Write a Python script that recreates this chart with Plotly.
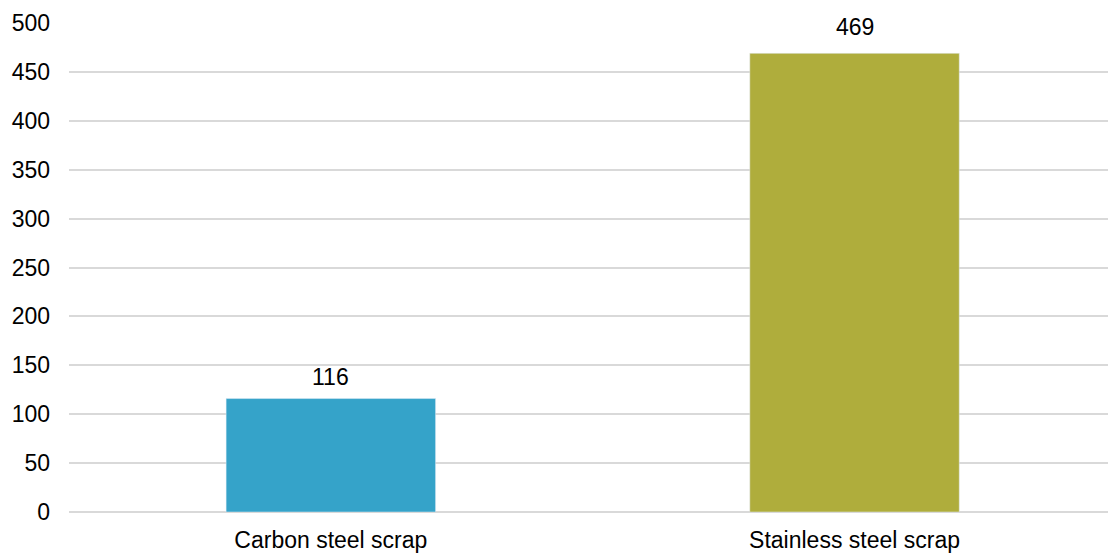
import plotly.graph_objects as go

categories = ["Carbon steel scrap", "Stainless steel scrap"]
values = [116, 469]
colors = ["#35A3C9", "#AFAD3C"]
y_ticks = [0, 50, 100, 150, 200, 250, 300, 350, 400, 450, 500]
label_shifts = [7, 11]

FONT = "Liberation Sans, Arial"

fig = go.Figure(go.Bar(
    x=categories, y=values, marker_color=colors, width=0.4,
    cliponaxis=False,
))
for c, v, s in zip(categories, values, label_shifts):
    fig.add_annotation(x=c, y=v, text=str(v), showarrow=False, yanchor="bottom",
                       yshift=s, font=dict(size=23, color="#000000", family=FONT))

fig.update_layout(
    width=1108, height=553,
    margin=dict(l=69, r=0, t=23, b=41),
    paper_bgcolor="white", plot_bgcolor="white",
    showlegend=False,
    font=dict(family=FONT, size=23, color="#000000"),
    xaxis=dict(range=[-0.5, 1.484], showgrid=False, showline=False, ticks="",
               ticklabelstandoff=12, tickfont=dict(size=23)),
    yaxis=dict(range=[0, 500], tickvals=y_ticks, showgrid=True, gridcolor="#d9d9d9",
               gridwidth=2, zeroline=True, zerolinecolor="#d9d9d9", zerolinewidth=2,
               showline=False, ticks="", ticklabelstandoff=18, tickfont=dict(size=23)),
)
fig.write_html("out.html")
